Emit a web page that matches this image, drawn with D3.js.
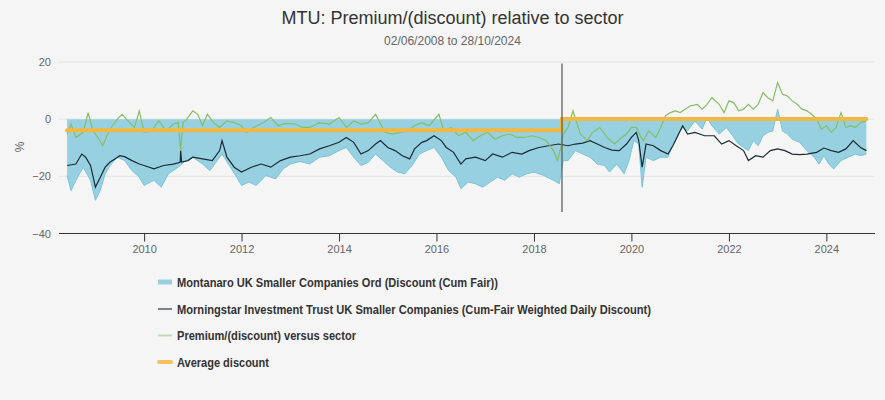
<!DOCTYPE html>
<html><head><meta charset="utf-8">
<script src="https://cdn.jsdelivr.net/npm/d3@7"></script>
<style>
html,body{margin:0;padding:0;background:#f5f5f5;}
svg{display:block;font-family:"Liberation Sans",Arial,sans-serif;}
</style></head>
<body><svg id="c" width="885" height="400"></svg>
<script>
// ---- data (decimal year, value %) ----
const titleText = "MTU: Premium/(discount) relative to sector";
const subtitleText = "02/06/2008 to 28/10/2024";
const startDate = "2008-06-02", endDate = "2024-10-28";
const yTicks = [-40, -20, 0, 20];
const seriesNames = [
  "Montanaro UK Smaller Companies Ord (Discount (Cum Fair))",
  "Morningstar Investment Trust UK Smaller Companies (Cum-Fair Weighted Daily Discount)",
  "Premium/(discount) versus sector",
  "Average discount"
];
const montanaro = [
[2008.42,-19.7],[2008.5,-25.0],[2008.6,-21.4],[2008.75,-16.8],[2008.9,-21.4],[2009.0,-28.4],[2009.1,-24.9],[2009.2,-19.1],[2009.3,-16.2],[2009.45,-13.3],[2009.6,-14.5],[2009.75,-18.0],[2009.9,-20.3],[2010.0,-23.2],[2010.2,-21.4],[2010.35,-23.8],[2010.5,-19.1],[2010.7,-16.8],[2010.85,-14.5],[2011.0,-13.3],[2011.2,-15.7],[2011.35,-18.0],[2011.5,-14.5],[2011.6,-12.2],[2011.75,-16.2],[2011.9,-20.3],[2012.0,-23.2],[2012.15,-22.0],[2012.3,-23.2],[2012.5,-19.7],[2012.7,-20.9],[2012.85,-17.4],[2013.0,-15.7],[2013.2,-14.8],[2013.4,-15.7],[2013.6,-13.3],[2013.8,-12.8],[2014.0,-11.0],[2014.15,-9.9],[2014.3,-13.3],[2014.45,-16.2],[2014.6,-15.1],[2014.75,-12.2],[2014.9,-14.5],[2015.05,-16.8],[2015.2,-18.5],[2015.35,-19.1],[2015.5,-16.2],[2015.65,-12.2],[2015.8,-11.0],[2015.95,-9.9],[2016.1,-13.3],[2016.25,-18.0],[2016.4,-20.3],[2016.5,-24.3],[2016.65,-22.0],[2016.8,-22.6],[2016.95,-23.8],[2017.1,-22.0],[2017.25,-20.3],[2017.4,-21.4],[2017.55,-19.1],[2017.7,-20.3],[2017.85,-19.1],[2018.0,-18.5],[2018.2,-19.7],[2018.4,-21.4],[2018.52,-22.6],[2018.6,-14.5],[2018.7,-14.5],[2018.85,-11.0],[2019.0,-12.2],[2019.15,-13.3],[2019.3,-15.7],[2019.45,-16.2],[2019.55,-18.5],[2019.7,-15.7],[2019.85,-19.1],[2019.95,-14.5],[2020.05,-7.5],[2020.15,-8.7],[2020.22,-23.8],[2020.3,-13.3],[2020.45,-14.5],[2020.6,-13.3],[2020.75,-13.3],[2020.85,-8.7],[2020.95,-5.2],[2021.05,-2.9],[2021.15,-4.1],[2021.3,-0.6],[2021.45,-3.5],[2021.55,0.6],[2021.65,-2.3],[2021.8,-5.2],[2021.95,-2.9],[2022.1,-6.4],[2022.2,-8.7],[2022.3,-9.9],[2022.4,-11.0],[2022.5,-7.5],[2022.6,-9.3],[2022.7,-5.8],[2022.8,-4.6],[2022.9,-4.1],[2023.0,3.5],[2023.1,-4.1],[2023.2,-5.2],[2023.3,-7.0],[2023.45,-8.1],[2023.6,-11.0],[2023.75,-13.3],[2023.85,-15.7],[2023.95,-12.8],[2024.05,-15.7],[2024.15,-17.4],[2024.3,-14.5],[2024.45,-13.3],[2024.6,-12.2],[2024.7,-12.8],[2024.82,-12.2]
];
const sector = [
[2008.42,-16.2],[2008.6,-15.7],[2008.72,-12.2],[2008.8,-13.3],[2008.9,-16.2],[2009.0,-23.8],[2009.1,-20.3],[2009.2,-16.8],[2009.3,-15.0],[2009.4,-13.9],[2009.5,-12.8],[2009.6,-13.1],[2009.75,-14.5],[2009.9,-15.7],[2010.0,-16.2],[2010.2,-17.4],[2010.4,-16.2],[2010.6,-15.7],[2010.74,-15.1],[2010.75,-11.0],[2010.77,-15.0],[2010.9,-14.5],[2011.0,-13.3],[2011.2,-13.9],[2011.4,-14.5],[2011.55,-11.0],[2011.6,-7.5],[2011.7,-13.3],[2011.85,-16.8],[2012.0,-18.5],[2012.2,-16.8],[2012.4,-15.7],[2012.6,-16.8],[2012.8,-14.5],[2013.0,-13.3],[2013.2,-12.8],[2013.4,-12.2],[2013.6,-10.4],[2013.8,-9.3],[2014.0,-8.1],[2014.15,-6.4],[2014.3,-8.1],[2014.45,-12.2],[2014.6,-11.0],[2014.75,-8.7],[2014.85,-7.5],[2015.0,-9.9],[2015.15,-11.0],[2015.3,-12.8],[2015.45,-13.9],[2015.55,-10.4],[2015.7,-8.1],[2015.8,-7.5],[2015.95,-5.8],[2016.1,-7.5],[2016.2,-9.9],[2016.35,-11.6],[2016.5,-15.7],[2016.6,-13.9],[2016.8,-13.3],[2017.0,-14.5],[2017.15,-12.2],[2017.35,-13.3],[2017.55,-11.6],[2017.75,-12.2],[2017.9,-11.0],[2018.1,-9.9],[2018.3,-9.3],[2018.5,-8.7],[2018.7,-9.3],[2018.85,-8.7],[2019.0,-8.4],[2019.15,-7.5],[2019.3,-8.7],[2019.45,-9.9],[2019.6,-10.8],[2019.75,-11.0],[2019.9,-8.7],[2020.0,-6.4],[2020.1,-4.6],[2020.15,-7.5],[2020.22,-16.8],[2020.3,-8.7],[2020.45,-9.3],[2020.6,-11.0],[2020.75,-12.2],[2020.85,-9.3],[2020.95,-5.8],[2021.05,-2.3],[2021.15,-5.2],[2021.3,-4.6],[2021.5,-5.8],[2021.7,-5.8],[2021.85,-8.7],[2022.0,-7.5],[2022.15,-9.3],[2022.3,-11.0],[2022.4,-14.5],[2022.55,-12.8],[2022.7,-13.3],[2022.85,-11.0],[2023.0,-10.4],[2023.15,-11.0],[2023.3,-12.2],[2023.45,-12.4],[2023.6,-12.2],[2023.8,-11.6],[2023.95,-10.1],[2024.1,-11.0],[2024.25,-11.6],[2024.4,-10.4],[2024.55,-7.5],[2024.7,-9.9],[2024.82,-11.0]
];
const premium = [
[2008.42,-5.2],[2008.5,-1.7],[2008.6,-6.4],[2008.75,-4.6],[2008.85,2.3],[2008.95,-4.1],[2009.05,-6.4],[2009.15,-9.3],[2009.25,-5.2],[2009.35,-2.3],[2009.45,0.0],[2009.55,1.7],[2009.7,-1.2],[2009.8,-2.9],[2009.9,2.9],[2010.0,-4.6],[2010.15,-4.1],[2010.3,-0.6],[2010.45,-4.1],[2010.6,-1.7],[2010.7,-1.2],[2010.75,-11.0],[2010.8,-1.0],[2010.85,-0.6],[2011.0,2.9],[2011.1,1.7],[2011.2,-2.3],[2011.3,1.7],[2011.45,-1.7],[2011.55,-2.9],[2011.7,-0.6],[2011.85,-1.2],[2012.0,-2.3],[2012.1,-4.6],[2012.25,-2.9],[2012.45,-1.2],[2012.6,0.6],[2012.75,-2.3],[2012.9,-1.5],[2013.1,-1.7],[2013.25,-2.9],[2013.4,-2.9],[2013.6,-1.2],[2013.8,-1.7],[2014.0,0.6],[2014.15,-2.9],[2014.3,-0.6],[2014.45,-1.7],[2014.6,-1.2],[2014.75,1.7],[2014.85,-1.7],[2014.95,-4.6],[2015.1,-5.2],[2015.25,-4.6],[2015.4,-4.1],[2015.55,-2.3],[2015.7,-1.2],[2015.85,-2.3],[2016.05,1.7],[2016.15,-4.1],[2016.3,-2.9],[2016.45,-5.8],[2016.6,-4.6],[2016.75,-7.5],[2016.9,-5.8],[2017.05,-4.6],[2017.2,-7.0],[2017.35,-5.8],[2017.5,-5.2],[2017.65,-6.4],[2017.8,-6.4],[2017.95,-5.8],[2018.1,-6.4],[2018.25,-7.5],[2018.4,-11.0],[2018.48,-14.5],[2018.55,-10.0],[2018.6,-5.2],[2018.7,-2.9],[2018.8,2.9],[2018.95,-5.2],[2019.1,-7.5],[2019.2,-4.6],[2019.35,-2.9],[2019.5,-6.4],[2019.65,-8.7],[2019.8,-6.4],[2019.9,-5.2],[2020.0,-2.9],[2020.1,-2.9],[2020.2,-6.4],[2020.25,-7.5],[2020.35,-4.1],[2020.5,-6.4],[2020.6,-2.9],[2020.7,1.2],[2020.8,2.3],[2020.9,2.9],[2021.0,2.3],[2021.1,3.5],[2021.2,4.6],[2021.35,5.2],[2021.45,3.5],[2021.55,5.2],[2021.65,7.5],[2021.8,5.2],[2021.9,2.3],[2022.0,6.4],[2022.1,5.8],[2022.2,2.9],[2022.3,3.5],[2022.4,5.2],[2022.5,3.5],[2022.6,5.2],[2022.7,9.3],[2022.8,7.5],[2022.9,6.4],[2023.0,12.8],[2023.1,8.7],[2023.2,8.1],[2023.3,6.4],[2023.4,5.2],[2023.5,3.5],[2023.6,2.9],[2023.7,1.7],[2023.8,0.0],[2023.9,-3.5],[2024.0,-2.3],[2024.1,-4.6],[2024.2,-2.9],[2024.3,2.3],[2024.4,-2.9],[2024.5,-2.3],[2024.6,-2.9],[2024.7,-1.2],[2024.82,-0.6]
];
const averageDiscount = [
[2008.42,-3.9],[2018.575,-3.9],[2018.575,0.1],[2024.82,0.1]
];
const markerLine = [[2018.575,19.5],[2018.575,-32.5]];

// ---- helpers ----
function yearToDate(y){
  const yr = Math.floor(y);
  const a = new Date(yr,0,1).getTime(), b = new Date(yr+1,0,1).getTime();
  return new Date(a + (y-yr)*(b-a));
}
const svg = d3.select("#c");
const x = d3.scaleTime().domain([new Date(startDate), new Date(endDate)]).range([67, 866.5]);
const y = d3.scaleLinear().domain([-40, 20]).range([233.5, 62]);

// title
svg.append("text").attr("x", 452.5).attr("y", 24).attr("text-anchor","middle")
  .attr("font-size", 18).attr("fill","#333").text(titleText);
svg.append("text").attr("x", 452.5).attr("y", 45).attr("text-anchor","middle")
  .attr("font-size", 12).attr("fill","#666").text(subtitleText);

// grid + y axis labels
const yAxis = d3.axisLeft(y).tickValues(yTicks).tickSize(0).tickPadding(8);
const gy = svg.append("g").attr("transform","translate(59,0)").call(yAxis);
gy.select(".domain").remove();
gy.selectAll("text").attr("font-size",11).attr("fill","#666").attr("font-family","Liberation Sans, Arial, sans-serif");
svg.append("g").selectAll("line").data(yTicks.filter(d=>d>-40)).join("line")
  .attr("x1",59).attr("x2",875).attr("y1",d=>y(d)).attr("y2",d=>y(d))
  .attr("stroke","#e3e3e3").attr("stroke-width",1);
svg.append("text").attr("transform","translate(24,147) rotate(-90)")
  .attr("text-anchor","middle").attr("font-size",12).attr("fill","#666").text("%");

// x axis
const xAxis = d3.axisBottom(x).ticks(d3.timeYear.every(2)).tickFormat(d3.timeFormat("%Y")).tickSize(8).tickPadding(4);
const gx = svg.append("g").attr("transform",`translate(0,${y(-40)})`).call(xAxis);
gx.select(".domain").remove();
gx.selectAll(".tick line").attr("stroke","#333");
gx.selectAll("text").attr("font-size",11).attr("fill","#666").attr("font-family","Liberation Sans, Arial, sans-serif");
svg.append("line").attr("x1",59).attr("x2",875).attr("y1",y(-40)).attr("y2",y(-40)).attr("stroke","#333").attr("stroke-width",1);

const px = d => x(yearToDate(d[0]));
// area
svg.append("path").datum(montanaro)
  .attr("d", d3.area().x(px).y0(y(0)).y1(d=>y(d[1])))
  .attr("fill","#97d1e1");
svg.append("path").datum(montanaro)
  .attr("d", d3.line().x(px).y(d=>y(d[1])))
  .attr("fill","none").attr("stroke","#78c4da").attr("stroke-width",1);
// sector
svg.append("path").datum(sector)
  .attr("d", d3.line().x(px).y(d=>y(d[1])))
  .attr("fill","none").attr("stroke","#1b2a33").attr("stroke-width",1.2);
// premium
svg.append("path").datum(premium)
  .attr("d", d3.line().x(px).y(d=>y(d[1])))
  .attr("fill","none").attr("stroke","#86bd65").attr("stroke-width",1.2);
// average discount
svg.append("path").datum(averageDiscount)
  .attr("d", d3.line().x(px).y(d=>y(d[1])))
  .attr("fill","none").attr("stroke","#f2b843").attr("stroke-width",4).attr("stroke-linecap","round");
// marker
svg.append("line").attr("x1",px(markerLine[0])).attr("x2",px(markerLine[1]))
  .attr("y1",y(markerLine[0][1])).attr("y2",y(markerLine[1][1]))
  .attr("stroke","#555").attr("stroke-width",1.2);

// legend
const legY = [282, 309, 335.5, 362];
const legW = [321, 474, 179, 92];
const lg = svg.append("g");
seriesNames.forEach((n,i)=>{
  const g = lg.append("g").attr("transform",`translate(0,${legY[i]})`);
  if(i===0) g.append("rect").attr("x",158).attr("y",-2.5).attr("width",14).attr("height",5).attr("fill","#97d1e1");
  if(i===1) g.append("line").attr("x1",158).attr("x2",172).attr("stroke","#7e8286").attr("stroke-width",2);
  if(i===2) g.append("line").attr("x1",158).attr("x2",172).attr("stroke","#bcdcae").attr("stroke-width",2);
  if(i===3) g.append("line").attr("x1",159).attr("x2",171).attr("stroke","#f3c25e").attr("stroke-width",4).attr("stroke-linecap","round");
  g.append("text").attr("x",177).attr("y",4.5).attr("font-size",12.5).attr("font-weight","bold").attr("fill","#333")
    .attr("textLength",legW[i]).attr("lengthAdjust","spacingAndGlyphs").text(n);
});
</script></body></html>
